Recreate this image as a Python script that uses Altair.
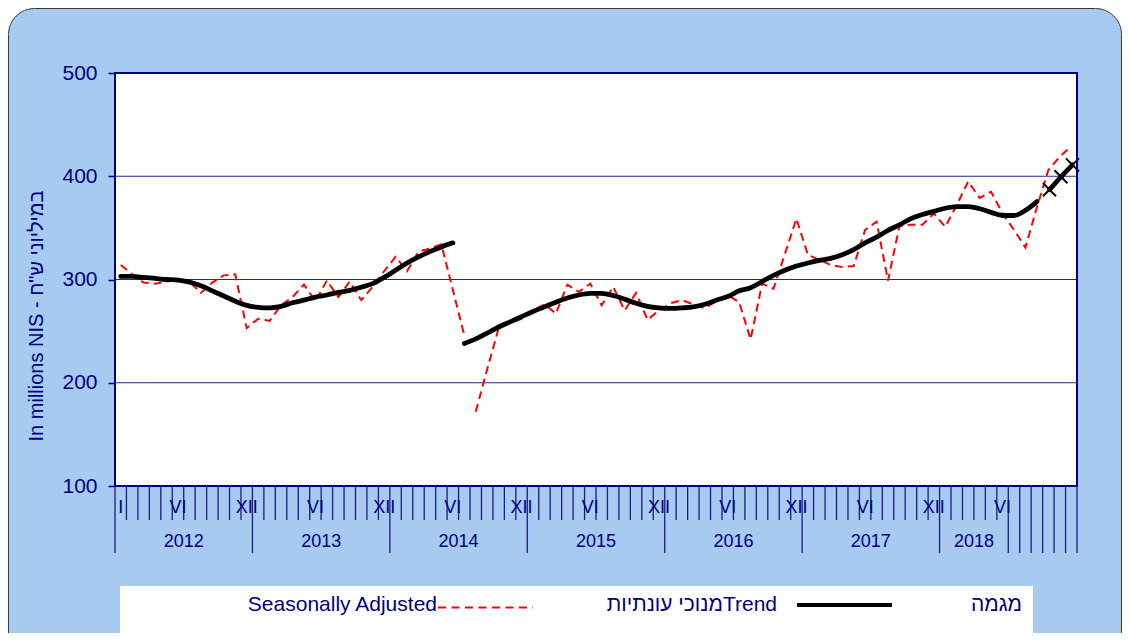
import altair as alt
import pandas as pd

# ---------------- data ----------------
sa_values = [314, 305, 297, 296, 298, 300, 298, 287, 297, 304, 305, 253,
             262, 260, 275, 283, 295, 279, 299, 283, 298, 280, 293, 308,
             322, 308, 327, 330, 334, 290, 246, 172, 213, 253, 258, 262,
             270, 276, 267, 295, 288, 296, 275, 293, 270, 287, 261, 270,
             277, 280, 276, 272, 279, 285, 278, 242, 296, 291, 325, 359,
             324, 319, 314, 312, 313, 348, 356, 299, 352, 353, 353, 364,
             351, 372, 395, 379, 385, 364, 348, 331, 370, 406, 419, 429]
sa_break = 30  # last month of first SA segment

trend_part1 = [303, 303, 302, 301, 300, 299.5, 297.5, 294, 289, 284, 279, 275,
               273, 272.5, 274, 277.5, 280, 283, 285, 287.5, 289.5, 292.5, 296, 302,
               309, 316, 322, 327, 331.5, 335.5]  # months 0..29
trend_part2 = [238, 242.5, 248, 254, 259, 264,
               269, 273.5, 278, 282, 285, 286.5, 286.5, 284.5, 281, 277, 274, 272.5,
               272, 272.5, 273.5, 276, 280, 283.5, 289, 292, 298, 304, 309, 313,
               316, 318.5, 320.5, 324, 329, 335.5, 341, 347.5, 353, 359, 363, 366,
               369, 370.5, 370.5, 368.5, 365, 362, 362, 367, 375.5]  # months 30..80
forecast_values = [387, 399.5, 411]  # months 81..83

month_label_pos = [0] + [5 + 12 * k for k in range(7)] + [11 + 12 * k for k in range(6)]
month_label_txt = ["I"] + ["VI"] * 7 + ["XII"] * 6
year_labels = ["2012", "2013", "2014", "2015", "2016", "2017", "2018"]
year_centers = [6, 18, 30, 42, 54, 66, 75]
long_ticks = [0, 12, 24, 36, 48, 60, 72, 78, 79, 80, 81, 82, 83, 84]
short_ticks = [k for k in range(1, 78) if k not in long_ticks]
y_ticks = [100, 200, 300, 400, 500]
grid_values = [200, 300, 400]

# ---------------- frames ----------------
sa_df = pd.DataFrame({
    "x": [i + 0.5 for i in range(len(sa_values))],
    "v": sa_values,
    "seg": [1 if i <= sa_break else 2 for i in range(len(sa_values))],
})
tr_df = pd.DataFrame({
    "x": [i + 0.5 for i in range(len(trend_part1))] +
         [i + 30.5 for i in range(len(trend_part2))],
    "v": trend_part1 + trend_part2,
    "seg": [1] * len(trend_part1) + [2] * len(trend_part2),
})
fc_df = pd.DataFrame({"x": [81.6, 82.6, 83.6], "v": forecast_values})
ml_df = pd.DataFrame({"x": [p + 0.5 for p in month_label_pos], "t": month_label_txt})
yl_df = pd.DataFrame({"x": year_centers, "t": year_labels})
lt_df = pd.DataFrame({"k": long_ticks})
st_df = pd.DataFrame({"k": short_ticks})
grid_df = pd.DataFrame({"v": grid_values})
one = pd.DataFrame({"a": [0]})

NAVY = "#000080"
FONT = "Liberation Sans"
W, H = 962, 413

xs = alt.Scale(domain=[0, 84], nice=False, zero=False)
ys = alt.Scale(domain=[100, 500], nice=False, zero=False)
yaxis = alt.Axis(values=y_ticks, grid=False, domain=False, tickColor=NAVY,
                 tickSize=7, tickWidth=1.5, labelColor=NAVY, labelFont=FONT,
                 labelFontSize=21, labelPadding=11, title=None, zindex=1)


def X(f):
    return alt.X(f, type="quantitative", scale=xs, axis=None)


def Y(f):
    return alt.Y(f, type="quantitative", scale=ys, axis=yaxis)


bg = alt.Chart(one).mark_rect(fill="#A6CAF0", stroke="#3a3a3a", strokeWidth=1,
                              cornerRadius=26).encode(
    x=alt.value(-106.5), x2=alt.value(1006.5), y=alt.value(-64.5), y2=alt.value(640))

plot_bg = alt.Chart(one).mark_rect(fill="white").encode(
    x=alt.value(0), x2=alt.value(W), y=alt.value(0), y2=alt.value(H))

grid = alt.Chart(grid_df).mark_rule(color="#26268C", strokeWidth=1).encode(
    y=Y("v"), x=alt.value(0), x2=alt.value(W))

sa_line = alt.Chart(sa_df).mark_line(color="#FF0000", strokeWidth=2,
                                     strokeDash=[8, 5]).encode(
    x=X("x"), y=Y("v"), detail="seg:N")

tr_line = alt.Chart(tr_df).mark_line(color="black", strokeWidth=4.8,
                                     interpolate="monotone", strokeCap="round").encode(
    x=X("x"), y=Y("v"), detail="seg:N")

fc_line = alt.Chart(fc_df).mark_line(color="black", strokeWidth=4.8,
                                     strokeCap="round").encode(x=X("x"), y=Y("v"))
fc_pts = alt.Chart(fc_df).mark_point(shape="M-1,-1L1,1M-1,1L1,-1", size=170,
                                     filled=False, stroke="black", strokeWidth=2,
                                     opacity=1).encode(x=X("x"), y=Y("v"))

border = alt.Chart(one).mark_rect(fillOpacity=0, stroke=NAVY, strokeWidth=2).encode(
    x=alt.value(0), x2=alt.value(W), y=alt.value(0), y2=alt.value(H))

short_t = alt.Chart(st_df).mark_rule(color="#1C1C86", strokeWidth=1.3).encode(
    x=X("k"), y=alt.value(H), y2=alt.value(H + 34))
long_t = alt.Chart(lt_df).mark_rule(color="#1C1C86", strokeWidth=1.3).encode(
    x=X("k"), y=alt.value(H), y2=alt.value(H + 67))

month_txt = alt.Chart(ml_df).mark_text(font=FONT, fontSize=18, color=NAVY,
                                       baseline="middle", align="center").encode(
    x=X("x"), y=alt.value(H + 22), text="t:N")
year_txt = alt.Chart(yl_df).mark_text(font=FONT, fontSize=18, color=NAVY,
                                      baseline="middle", align="center").encode(
    x=X("x"), y=alt.value(H + 56), text="t:N")

ytitle = alt.Chart(one).mark_text(font=FONT, fontSize=20, color=NAVY, angle=270,
                                  baseline="middle", align="center",
                                  text='In millions NIS - במיליוני ש"ח').encode(
    x=alt.value(-78), y=alt.value(243))

leg_box = alt.Chart(one).mark_rect(fill="white").encode(
    x=alt.value(5), x2=alt.value(918), y=alt.value(513), y2=alt.value(563))
leg_t1 = alt.Chart(one).mark_text(font=FONT, fontSize=21, color=NAVY, align="right",
                                  baseline="middle", text="Seasonally Adjusted").encode(
    x=alt.value(322), y=alt.value(532))
leg_s1 = alt.Chart(one).mark_rule(color="#FF0000", strokeWidth=2,
                                  strokeDash=[8, 5.5]).encode(
    x=alt.value(323), x2=alt.value(418), y=alt.value(534.5))
leg_t2 = alt.Chart(one).mark_text(font=FONT, fontSize=21, color=NAVY, align="right",
                                  baseline="middle", text="מנוכי עונתיותTrend").encode(
    x=alt.value(662), y=alt.value(532))
leg_s2 = alt.Chart(one).mark_rule(color="black", strokeWidth=4).encode(
    x=alt.value(682), x2=alt.value(777), y=alt.value(532))
leg_t3 = alt.Chart(one).mark_text(font=FONT, fontSize=21, color=NAVY, align="right",
                                  baseline="middle", text="מגמה").encode(
    x=alt.value(907), y=alt.value(532))

chart = alt.layer(
    bg, plot_bg, grid, sa_line, tr_line, fc_line, fc_pts, border,
    short_t, long_t, month_txt, year_txt, ytitle,
    leg_box, leg_t1, leg_s1, leg_t2, leg_s2, leg_t3,
).properties(
    width=W, height=H,
    padding={"left": 107, "top": 65, "right": 45, "bottom": 147},
    autosize=alt.AutoSizeParams(type="none"),
).configure_view(stroke=None).configure(background="white")

chart.save("out.html", embed_options={"renderer": "svg", "actions": False})
